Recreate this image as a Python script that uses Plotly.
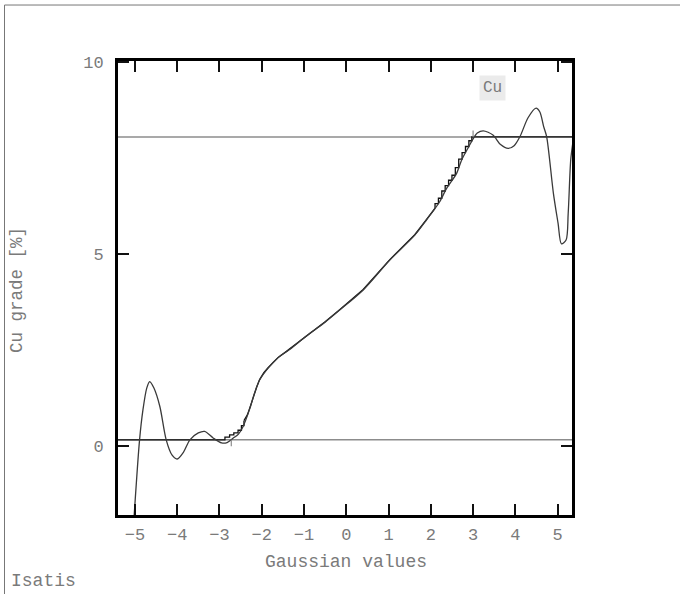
import plotly.graph_objects as go

# Axis extents
X_RANGE = [-5.40, 5.34]
Y_RANGE = [-1.81, 10.03]

# Grade bounds of the data and their gaussian equivalents
ZMIN, ZMAX = 0.15, 8.05
GMIN, GMAX = -2.72, 3.00

# Fitted anamorphosis (Hermite expansion) - gaussian value vs Cu grade
fit_x = [-5.04, -4.89, -4.81, -4.72, -4.65, -4.55, -4.41, -4.26, -4.12, -4.00,
         -3.85, -3.70, -3.50, -3.35, -3.15, -2.95, -2.82, -2.68, -2.55, -2.44,
         -2.28, -2.17, -2.05, -1.85, -1.61, -1.35, -1.10, -0.86, -0.50, -0.15,
         0.40, 1.03, 1.62, 1.90, 2.21, 2.37, 2.61, 2.73, 2.90, 3.00,
         3.10, 3.24, 3.47, 3.65, 3.83, 3.97, 4.11, 4.30, 4.49, 4.58,
         4.67, 4.74, 4.90, 5.01, 5.09, 5.20, 5.25, 5.31, 5.36]
fit_y = [-2.20, 0.15, 0.93, 1.50, 1.67, 1.50, 1.02, 0.15, -0.25, -0.35,
         -0.17, 0.15, 0.33, 0.37, 0.20, 0.07, 0.08, 0.19, 0.30, 0.50,
         0.97, 1.37, 1.71, 2.02, 2.30, 2.50, 2.72, 2.93, 3.22, 3.54,
         4.06, 4.84, 5.49, 5.89, 6.36, 6.70, 7.10, 7.45, 7.80, 8.00,
         8.15, 8.21, 8.10, 7.85, 7.75, 7.82, 8.06, 8.55, 8.80, 8.70,
         8.32, 8.06, 6.58, 5.80, 5.26, 5.36, 6.06, 7.45, 7.90]

# Experimental anamorphosis: sparse low tail (steps)
exp_low_x = [-2.87, -2.76, -2.66, -2.56, -2.48, -2.42]
exp_low_y = [0.22, 0.28, 0.33, 0.40, 0.52, 0.65]

# Experimental anamorphosis: dense central part
exp_mid_x = [-2.42, -2.34, -2.28, -2.20, -2.12, -2.05, -1.95, -1.85, -1.72, -1.61,
             -1.40, -1.10, -0.86, -0.50, -0.15, 0.40, 1.03, 1.62, 1.90, 2.10]
exp_mid_y = [0.65, 0.80, 0.99, 1.28, 1.52, 1.72, 1.90, 2.03, 2.18, 2.30,
             2.47, 2.72, 2.93, 3.23, 3.55, 4.07, 4.85, 5.50, 5.90, 6.19]

# Experimental anamorphosis: sparse high tail (steps)
exp_high_x = [2.10, 2.18, 2.26, 2.34, 2.42, 2.50, 2.58, 2.66, 2.74, 2.82, 2.90, 2.97, 3.02]
exp_high_y = [6.19, 6.31, 6.45, 6.64, 6.78, 6.92, 7.05, 7.25, 7.47, 7.64, 7.80, 7.95, 8.05]

X_TICKS = [-5, -4, -3, -2, -1, 0, 1, 2, 3, 4, 5]
Y_TICKS = [0, 5, 10]

FONT = "Liberation Mono, Courier New, monospace"
TXT = "#7a7a7a"
GRAY = "#8c8c8c"
EXP_COLOR = "#111111"

fig = go.Figure()

exp_line = dict(color=EXP_COLOR, width=1.3)
# low tail starts at the left edge on the minimum grade
fig.add_trace(go.Scatter(
    x=[X_RANGE[0]] + exp_low_x, y=[ZMIN] + exp_low_y, mode="lines",
    line=dict(exp_line, shape="hv"), hoverinfo="skip", showlegend=False))
fig.add_trace(go.Scatter(
    x=exp_mid_x, y=exp_mid_y, mode="lines",
    line=dict(exp_line, shape="linear"), hoverinfo="skip", showlegend=False))
# high tail runs to the right edge on the maximum grade
fig.add_trace(go.Scatter(
    x=exp_high_x + [X_RANGE[1]], y=exp_high_y + [ZMAX], mode="lines",
    line=dict(exp_line, shape="vh"), hoverinfo="skip", showlegend=False))

# Fitted model curve
fig.add_trace(go.Scatter(
    x=fit_x, y=fit_y, mode="lines",
    line=dict(color="#3a3a3a", width=1.3, shape="spline", smoothing=0.8),
    showlegend=False))

shapes = [
    # grade bounds across the whole plot
    dict(type="line", xref="paper", yref="y", x0=0, x1=1, y0=ZMIN, y1=ZMIN,
         line=dict(color=GRAY, width=1.5), layer="below"),
    dict(type="line", xref="paper", yref="y", x0=0, x1=1, y0=ZMAX, y1=ZMAX,
         line=dict(color=GRAY, width=1.5), layer="below"),
    # gaussian positions of the min / max data values
    dict(type="line", xref="x", yref="y", x0=GMIN, x1=GMIN, y0=ZMIN, y1=ZMIN - 0.17,
         line=dict(color=GRAY, width=1.2)),
    dict(type="line", xref="x", yref="y", x0=GMAX, x1=GMAX, y0=ZMAX, y1=ZMAX + 0.17,
         line=dict(color=GRAY, width=1.2)),
    # page frame
    dict(type="rect", xref="paper", yref="paper",
         x0=-0.2500, x1=1.5, y0=1.1233, y1=-0.5,
         line=dict(color="#777777", width=1)),
]

annotations = [
    dict(text="Cu", x=3.47, y=9.33, xref="x", yref="y", showarrow=False,
         bgcolor="#ebebeb", borderpad=3,
         font=dict(family=FONT, size=16, color=TXT)),
    dict(text="Cu grade [%]", x=-0.2225, y=0.4956, xref="paper", yref="paper",
         showarrow=False, textangle=-90, xanchor="center", yanchor="middle",
         font=dict(family=FONT, size=17.5, color=TXT)),
    dict(text="Gaussian values", x=0.502, y=-0.1035, xref="paper", yref="paper",
         showarrow=False, xanchor="center", yanchor="middle",
         font=dict(family=FONT, size=18, color=TXT)),
    dict(text="Isatis", x=-0.240, y=-0.145, xref="paper", yref="paper",
         showarrow=False, xanchor="left", yanchor="middle",
         font=dict(family=FONT, size=18, color=TXT)),
]

axis_common = dict(ticks="inside", ticklen=11, tickwidth=1.5, tickcolor="#111111",
                   showgrid=False, zeroline=False, showline=True,
                   linecolor="#000000", linewidth=3, mirror="ticks",
                   tickfont=dict(family=FONT, size=17, color=TXT))

fig.update_layout(
    width=680, height=594,
    margin=dict(l=118, r=108, t=61, b=79),
    paper_bgcolor="white", plot_bgcolor="white",
    shapes=shapes, annotations=annotations,
    xaxis=dict(axis_common, range=X_RANGE, tickvals=X_TICKS, ticklabelstandoff=2),
    yaxis=dict(axis_common, range=Y_RANGE, tickvals=Y_TICKS, ticklabelstandoff=8),
)

fig.write_html("out.html")
